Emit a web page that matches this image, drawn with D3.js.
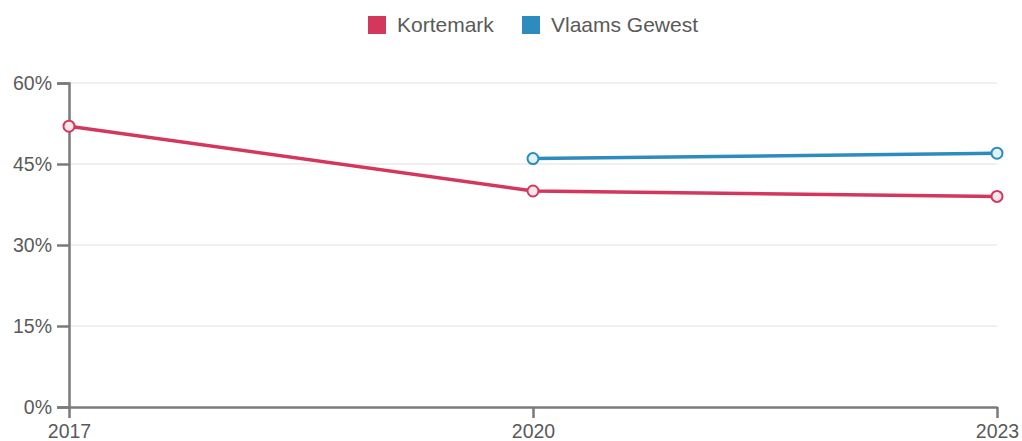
<!DOCTYPE html>
<html><head><meta charset="utf-8">
<script src="https://cdn.jsdelivr.net/npm/d3@7"></script>
<style>body{margin:0;background:#fff;font-family:"Liberation Sans",Arial,sans-serif;}</style>
</head><body><svg id="c" width="1022" height="441"></svg>
<script>
const years = [2017, 2020, 2023];
const kortemark = [52, 40, 39];
const vlaams = [null, 46, 47];
const yTicks = [0, 15, 30, 45, 60];
const seriesNames = ["Kortemark", "Vlaams Gewest"];
const colors = ["#d4375c", "#2e8bbd"];
const fills = ["#fbe6ec", "#dff4f8"];

const svg = d3.select("#c");
const x = d3.scaleLinear().domain([2017, 2023]).range([69, 997]);
const y = d3.scaleLinear().domain([0, 60]).range([407, 83]);

// grid
svg.append("g").selectAll("line").data(yTicks.filter(d=>d>0)).join("line")
  .attr("x1", 69).attr("x2", 997).attr("y1", d=>y(d)).attr("y2", d=>y(d))
  .attr("stroke", "#ebebeb").attr("stroke-width", 1.5);

// y axis
const ya = svg.append("g").attr("transform", "translate(69,0)")
  .call(d3.axisLeft(y).tickValues(yTicks).tickFormat(d=>d+"%").tickSize(12).tickPadding(5));
ya.select(".domain").attr("stroke", "#7a7a7a").attr("stroke-width", 2.5);
ya.selectAll(".tick line").attr("stroke", "#7a7a7a").attr("stroke-width", 2.5);
ya.selectAll("text").attr("fill", "#5a5a5a").style("font-size", "19.5px").style("font-family", "Liberation Sans, Arial, sans-serif");

// x axis
const xa = svg.append("g").attr("transform", "translate(0,407)")
  .call(d3.axisBottom(x).tickValues(years).tickFormat(d3.format("d")).tickSize(11).tickPadding(6).tickSizeOuter(0));
xa.select(".domain").attr("stroke", "#7a7a7a").attr("stroke-width", 2.5);
xa.selectAll(".tick line").attr("stroke", "#7a7a7a").attr("stroke-width", 2.5);
xa.selectAll("text").attr("fill", "#5a5a5a").style("font-size", "19.5px").style("font-family", "Liberation Sans, Arial, sans-serif");

const data = [kortemark, vlaams];
const line = d3.line().defined(d=>d[1]!=null).x(d=>x(d[0])).y(d=>y(d[1]));
data.forEach((vals, i) => {
  const pts = years.map((yr, j) => [yr, vals[j]]);
  svg.append("path").datum(pts).attr("d", line).attr("fill", "none")
    .attr("stroke", colors[i]).attr("stroke-width", 3.5);
  svg.append("g").selectAll("circle").data(pts.filter(d=>d[1]!=null)).join("circle")
    .attr("cx", d=>x(d[0])).attr("cy", d=>y(d[1])).attr("r", 5.5)
    .attr("fill", fills[i]).attr("stroke", colors[i]).attr("stroke-width", 2);
});

// legend
const lg = svg.append("g");
const lx = [368, 522];
seriesNames.forEach((n, i) => {
  lg.append("rect").attr("x", lx[i]).attr("y", 16).attr("width", 18).attr("height", 18).attr("fill", colors[i]);
  lg.append("text").attr("x", lx[i] + 29).attr("y", 32).text(n)
    .attr("fill", "#5a5a5a").style("font-size", "21px");
});
</script></body></html>
